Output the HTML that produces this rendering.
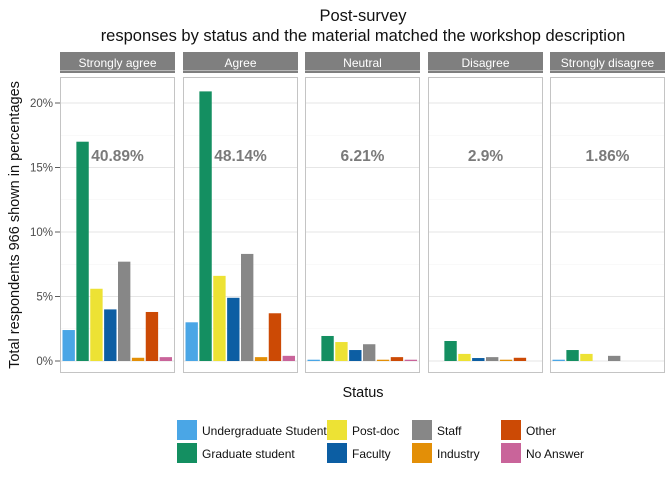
<!DOCTYPE html>
<html><head><meta charset="utf-8"><style>
body{margin:0;background:#fff;font-family:"Liberation Sans",sans-serif;}
</style></head><body>
<svg id="c" width="672" height="480" xmlns="http://www.w3.org/2000/svg" font-family="Liberation Sans, sans-serif">
<text x="363" y="21" text-anchor="middle" font-size="16.5" fill="#111">Post-survey</text>
<text x="363" y="41" text-anchor="middle" font-size="16.5" fill="#111">responses by status and the material matched the workshop description</text>
<text transform="translate(19,225) rotate(-90)" text-anchor="middle" font-size="14.5" fill="#111">Total respondents 966 shown in percentages</text>
<text x="363" y="397" text-anchor="middle" font-size="14.5" fill="#111">Status</text>
<g id="panels"></g>
<g id="legend"></g>
</svg>
<script>
const panelNames=["Strongly agree","Agree","Neutral","Disagree","Strongly disagree"];
const panelTotals=["40.89%","48.14%","6.21%","2.9%","1.86%"];
const statuses=["Undergraduate Student","Graduate student","Post-doc","Faculty","Staff","Industry","Other","No Answer"];
const colors=["#4aa6e6","#148f61","#ede234","#0c5ea3","#878787","#e38f07","#cc4a05","#c9649a"];
const vStronglyAgree=[2.4,17.0,5.6,4.0,7.7,0.25,3.8,0.3];
const vAgree=[3.0,20.9,6.6,4.9,8.3,0.3,3.7,0.4];
const vNeutral=[0.1,1.94,1.47,0.85,1.3,0.1,0.3,0.1];
const vDisagree=[0,1.55,0.55,0.23,0.3,0.1,0.25,0];
const vStronglyDisagree=[0.1,0.85,0.55,0,0.4,0,0,0];
const yTicks=[0,5,10,15,20];
const series=[vStronglyAgree,vAgree,vNeutral,vDisagree,vStronglyDisagree];
const NS="http://www.w3.org/2000/svg";
const y0=361,pxPer=12.9,plotTop=77,plotBot=373,pw=115;
const px=[60,183,305,428,550];
function yS(v){return y0-v*pxPer;}
function mk(t,a,p){const e=document.createElementNS(NS,t);for(const k in a)e.setAttribute(k,a[k]);p.appendChild(e);return e;}
const g=document.getElementById('panels');
panelNames.forEach((name,i)=>{
 const x=px[i];
 const pg=mk('g',{},g);
 
 
 const hdr=mk('rect',{x:x,y:52,width:pw,height:21,fill:'#7f7f7f'},pg);
 
 
 const ht=mk('text',{x:x+pw/2,y:67,'text-anchor':'middle','font-size':12,fill:'#fff'},pg);ht.textContent=name;
 
 
 mk('rect',{x:x,y:plotTop,width:pw,height:plotBot-plotTop,fill:'#fff'},pg);
 for(let t=2.5;t<=22.5;t+=5){mk('line',{x1:x,x2:x+pw,y1:yS(t),y2:yS(t),stroke:'#f3f3f3','stroke-width':0.6},pg);}
 yTicks.forEach(t=>{mk('line',{x1:x,x2:x+pw,y1:yS(t),y2:yS(t),stroke:'#e6e6e6','stroke-width':1.1},pg);});
 const slot=(pw-4)/8;
 series[i].forEach((v,j)=>{
  if(v<=0)return;
  const b=mk('rect',{x:x+2+j*slot+0.5,y:yS(v),width:slot-1.5,height:v*pxPer,fill:colors[j]},pg);
  
  
 });
 mk('rect',{x:x+0.5,y:plotTop+0.5,width:pw-1,height:plotBot-plotTop-1,fill:'none',stroke:'#c4c4c4','stroke-width':1},pg);
 const lt=mk('text',{x:x+pw/2,y:161,'text-anchor':'middle','font-size':15.5,'font-weight':'bold',fill:'#7a7a7a'},pg);lt.textContent=panelTotals[i];
 
 
 if(i===0){yTicks.forEach(t=>{
  const tt=mk('text',{x:53,y:yS(t)+4,'text-anchor':'end','font-size':11.5,fill:'#4d4d4d'},pg);tt.textContent=t+'%';
  
  
  mk('line',{x1:55,x2:60,y1:yS(t),y2:yS(t),stroke:'#333','stroke-width':0.8},pg);
 });}
});
const lg=document.getElementById('legend');
const lx=[177,327,412,501],ly=[420,443];
statuses.forEach((s,k)=>{
 const col=Math.floor(k/2),row=k%2;
 const e=mk('g',{},lg);
 
 
 mk('rect',{x:lx[col],y:ly[row],width:20,height:20,fill:colors[k]},e);
 const t=mk('text',{x:lx[col]+25,y:ly[row]+15,'font-size':12,fill:'#111'},e);t.textContent=s;
});
</script>
</body></html>
